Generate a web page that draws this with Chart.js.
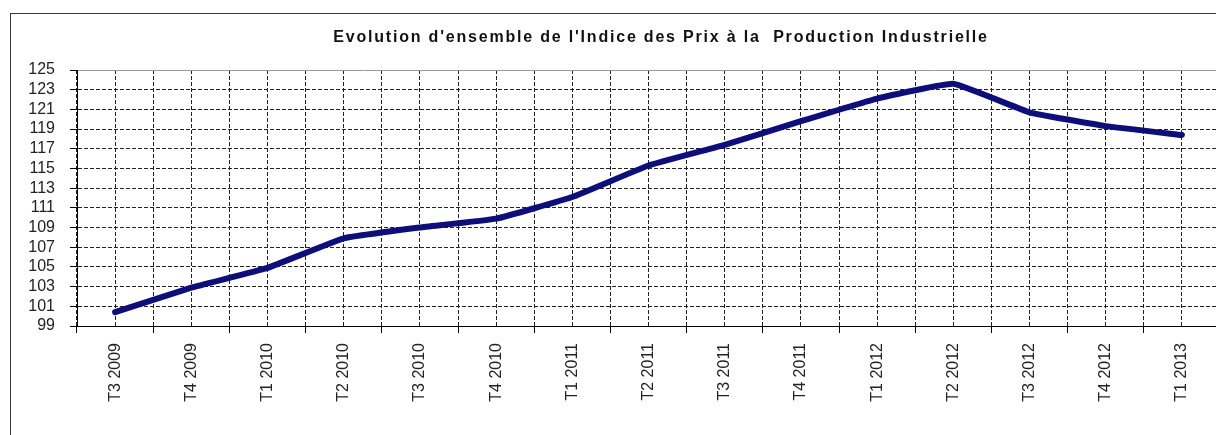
<!DOCTYPE html>
<html>
<head>
<meta charset="utf-8">
<script src="https://cdn.jsdelivr.net/npm/chart.js@4/dist/chart.umd.min.js"></script>
<style>
  html, body { margin: 0; padding: 0; background: #fff; overflow: hidden; }
  #frame {
    position: absolute; left: 10px; top: 13px;
    width: 1240px; height: 430px;
    border: 1px solid #3a3a3a; background: #fff;
  }
  canvas { display: block; }
</style>
</head>
<body>
<div id="frame"><canvas id="chart" width="1240" height="430"></canvas></div>
<script>
// Données
const chartTitle = "Evolution d'ensemble de l'Indice des Prix à la  Production Industrielle";
const quarters = ['T3 2009', 'T4 2009', 'T1 2010', 'T2 2010', 'T3 2010', 'T4 2010', 'T1 2011',
  'T2 2011', 'T3 2011', 'T4 2011', 'T1 2012', 'T2 2012', 'T3 2012', 'T4 2012', 'T1 2013'];
const ipiValues = [100.4, 102.9, 104.9, 107.9, 109.0, 109.9, 112.1,
  115.3, 117.4, 119.8, 122.1, 123.6, 120.7, 119.3, 118.4];
const yMin = 99;
const yMax = 125;
const yStep = 2;

const labelFont = { family: '"Liberation Sans", Arial, sans-serif', size: 16 };
const gridDash = [4, 2];

// Titre dessiné à la main (espacement des lettres façon Excel)
const titlePlugin = {
  id: 'excelTitle',
  afterDraw(chart) {
    const ctx = chart.ctx;
    ctx.save();
    ctx.font = 'bold 16px "Liberation Sans", Arial, sans-serif';
    ctx.letterSpacing = '1.8px';
    ctx.wordSpacing = '0px';
    ctx.fillStyle = '#111';
    ctx.textAlign = 'center';
    ctx.textBaseline = 'middle';
    ctx.fillText(chartTitle, 650, 24);
    ctx.restore();
  }
};

new Chart(document.getElementById('chart').getContext('2d'), {
  type: 'line',
  data: {
    labels: quarters,
    datasets: [{
      label: 'IPPI',
      data: ipiValues,
      xAxisID: 'x',
      yAxisID: 'y',
      borderColor: '#0e0e7a',
      borderWidth: 6,
      borderCapStyle: 'round',
      borderJoinStyle: 'round',
      tension: 0.1,
      pointRadius: 0,
      fill: false
    }]
  },
  options: {
    responsive: false,
    animation: false,
    layout: { padding: { top: 56, right: 31, bottom: 0, left: 0 } },
    plugins: {
      legend: { display: false },
      title: { display: false },
      tooltip: { enabled: false }
    },
    scales: {
      x: {
        type: 'category',
        position: 'bottom',
        offset: true,
        grid: {
          offset: true,
          color: '#222',
          lineWidth: 1,
          tickLength: 7,
          tickColor: '#000',
          tickWidth: 1
        },
        border: { display: true, color: '#000', width: 1, dash: gridDash },
        ticks: {
          font: labelFont,
          color: '#222',
          minRotation: 90,
          maxRotation: 90,
          padding: 10,
          autoSkip: false
        },
        afterFit(scale) { scale.height = 118; }
      },
      // second axe : lignes verticales au milieu des catégories
      x2: {
        type: 'category',
        position: 'bottom',
        labels: quarters,
        offset: true,
        grid: {
          offset: false,
          drawTicks: false,
          color: '#222',
          lineWidth: 1
        },
        border: { display: false, dash: gridDash },
        ticks: { display: false },
        afterFit(scale) { scale.height = 0; }
      },
      y: {
        min: yMin,
        max: yMax,
        grid: {
          color: ctx => (ctx.tick && ctx.tick.value === yMax) ? '#9a9a9a' : '#222',
          lineWidth: 1,
          tickLength: 7,
          tickColor: '#000'
        },
        border: {
          display: true,
          color: '#000',
          width: 1,
          dash: ctx => (ctx.tick && ctx.tick.value === yMax) ? [] : gridDash
        },
        ticks: {
          stepSize: yStep,
          autoSkip: false,
          font: labelFont,
          color: '#222',
          padding: 15
        },
        afterFit(scale) { scale.width = 66; }
      }
    }
  },
  plugins: [titlePlugin]
});
</script>
</body>
</html>
